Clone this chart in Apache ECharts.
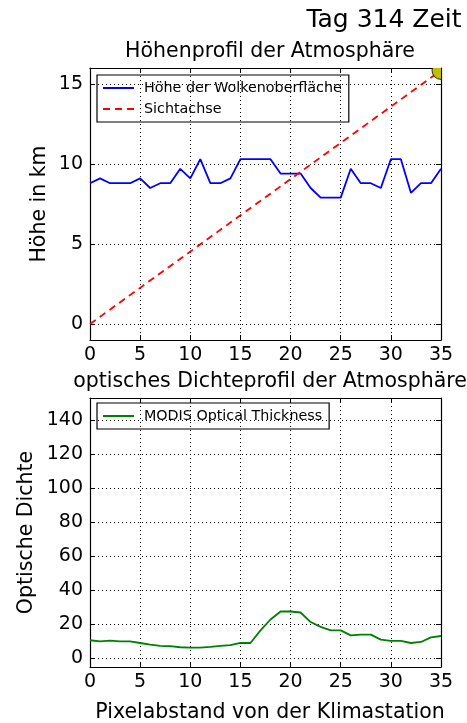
<!DOCTYPE html>
<html>
<head>
<meta charset="utf-8">
<script src="https://cdn.jsdelivr.net/npm/echarts@6/dist/echarts.min.js"></script>
<style>
  html, body { margin: 0; padding: 0; background: #ffffff; }
  #chart { width: 467px; height: 723px; }
</style>
</head>
<body>
<div id="chart"></div>
<script>
// Pixel distance from the climate station (x axis of both panels)
const pixels = [0,1,2,3,4,5,6,7,8,9,10,11,12,13,14,15,16,17,18,19,20,21,22,23,24,25,26,27,28,29,30,31,32,33,34,35];

// Cloud-top height in km along the profile
const cloudTop = [8.8,9.1,8.8,8.8,8.8,9.1,8.5,8.8,8.8,9.7,9.1,10.3,8.8,8.8,9.1,10.3,10.3,10.3,10.3,9.4,9.4,9.4,8.5,7.9,7.9,7.9,9.7,8.8,8.8,8.5,10.3,10.3,8.2,8.8,8.8,9.7];

// Line of sight from the station up to the sun position
const sightX = [0, 35];
const sightY = [0, 15.85];

// MODIS optical thickness along the profile
const opticalThickness = [10.7,10.1,10.5,10.1,10.1,9.1,8.2,7.4,7.2,6.6,6.4,6.4,6.8,7.4,7.8,9.1,9.1,16.5,22.9,27.6,27.6,27.0,21.4,18.6,16.5,16.5,13.6,14.0,14.0,11.1,10.3,10.3,9.1,9.7,12.4,13.2];

// Tick values
const heightTicks = [0,5,10,15];
const densityTicks = [0,20,40,60,80,100,120,140];

const FONT = 'DejaVu Sans';
const grids = [
  { left: 90, right: 26, top: 68, height: 272 },
  { left: 90, right: 26, top: 398, height: 269 }
];

const dotted = { show: true, lineStyle: { color: '#000', width: 1, type: [1, 3] } };
const frameLine = { show: true, onZero: false, lineStyle: { color: '#000', width: 1.2 } };
const innerTick = { show: true, inside: true, length: 5, lineStyle: { color: '#000', width: 1 } };
const tickLabel = { color: '#000', fontFamily: FONT, fontSize: 19 };
const titleText = { fontFamily: FONT, fontSize: 20.5, fontWeight: 'normal', color: '#000' };

function xAxes(gi) {
  return [
    { type: 'value', gridIndex: gi, position: 'bottom', min: 0, max: 35, interval: 5,
      axisLine: frameLine, axisTick: innerTick,
      axisLabel: Object.assign({ margin: 6 }, tickLabel),
      splitLine: dotted },
    { type: 'value', gridIndex: gi, position: 'top', min: 0, max: 35, interval: 5,
      axisLine: frameLine, axisTick: innerTick, axisLabel: { show: false }, splitLine: { show: false } }
  ];
}

function yAxes(gi, min, max, ticks, name, nameGap) {
  return [
    { type: 'value', gridIndex: gi, position: 'left', min: min, max: max,
      name: name, nameLocation: 'middle', nameGap: nameGap, nameMoveOverlap: false,
      nameTextStyle: { color: '#000', fontFamily: FONT, fontSize: 20.5 },
      axisLine: frameLine,
      axisTick: Object.assign({ customValues: ticks }, innerTick),
      axisLabel: Object.assign({ customValues: ticks, margin: 7 }, tickLabel),
      splitLine: dotted },
    { type: 'value', gridIndex: gi, position: 'right', min: min, max: max,
      axisLine: frameLine,
      axisTick: Object.assign({ customValues: ticks }, innerTick),
      axisLabel: { show: false, customValues: ticks }, splitLine: { show: false } }
  ];
}

// Legend boxes: framed, with line samples only (no point markers)
function legendBox(names, top) {
  return {
    data: names, orient: 'vertical', left: 97, top: top,
    padding: [5, 7, 5, 5], itemGap: 5, itemWidth: 31, itemHeight: 16,
    borderColor: '#000', borderWidth: 1.2, borderRadius: 0,
    itemStyle: { color: 'rgba(0,0,0,0)', borderWidth: 0 },
    textStyle: { fontFamily: FONT, fontSize: 14.3, color: '#000', lineHeight: 16, padding: [0, 0, 0, 5] }
  };
}

const chart = echarts.init(document.getElementById('chart'), null, { renderer: 'canvas' });

chart.setOption({
  backgroundColor: '#ffffff',
  animation: false,
  textStyle: { fontFamily: FONT },
  title: [
    { text: 'Tag 314 Zeit', left: 379, top: 3, textAlign: 'center',
      textStyle: { fontFamily: FONT, fontSize: 25, fontWeight: 'normal', color: '#000' } },
    { text: 'Höhenprofil der Atmosphäre', left: 265, top: 36, textAlign: 'center', textStyle: titleText },
    { text: 'optisches Dichteprofil der Atmosphäre', left: 265, top: 366, textAlign: 'center', textStyle: titleText },
    { text: 'Pixelabstand von der Klimastation', left: 265, top: 697, textAlign: 'center', textStyle: titleText }
  ],
  legend: [
    legendBox(['Höhe der Wolkenoberfläche', 'Sichtachse'], 75),
    legendBox(['MODIS Optical Thickness'], 403)
  ],
  grid: grids,
  xAxis: xAxes(0).concat(xAxes(1)),
  yAxis: yAxes(0, -1, 16, heightTicks, 'Höhe in km', 40)
    .concat(yAxes(1, -5, 153, densityTicks, 'Optische Dichte', 53)),
  series: [
    { name: 'Höhe der Wolkenoberfläche', type: 'line', xAxisIndex: 0, yAxisIndex: 0,
      data: pixels.map((p, i) => [p, cloudTop[i]]), symbol: 'none',
      lineStyle: { color: '#0000ff', width: 1.8 }, itemStyle: { color: '#0000ff' }, z: 3 },
    { name: 'Sichtachse', type: 'line', xAxisIndex: 0, yAxisIndex: 0,
      data: sightX.map((x, i) => [x, sightY[i]]), symbol: 'none',
      lineStyle: { color: '#ff0000', width: 1.8, type: [7, 5] }, itemStyle: { color: '#ff0000' }, z: 3 },
    // Sun marker at the end of the line of sight, clipped by the plot frame
    { name: 'Sonne', type: 'custom', xAxisIndex: 0, yAxisIndex: 0, clip: true, z: 4,
      data: [[sightX[1], sightY[1]]],
      renderItem: function (params, api) {
        const c = api.coord([api.value(0), api.value(1)]);
        return { type: 'circle', shape: { cx: c[0], cy: c[1], r: 9 },
                 style: { fill: '#bfbf00', stroke: '#000', lineWidth: 0.8 } };
      } },
    { name: 'MODIS Optical Thickness', type: 'line', xAxisIndex: 2, yAxisIndex: 2,
      data: pixels.map((p, i) => [p, opticalThickness[i]]), symbol: 'none',
      lineStyle: { color: '#008000', width: 1.8 }, itemStyle: { color: '#008000' }, z: 3 }
  ]
});
</script>
</body>
</html>
